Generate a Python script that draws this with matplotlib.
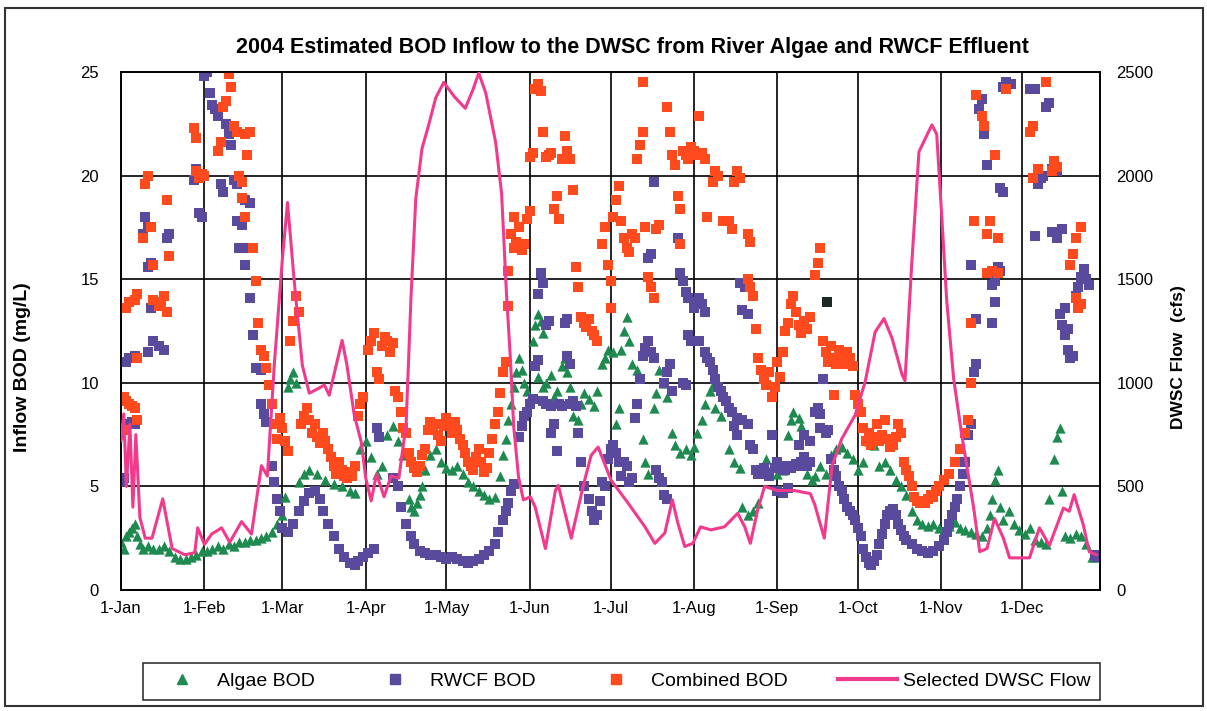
import numpy as np
import matplotlib
matplotlib.use('Agg')
import matplotlib.pyplot as plt
from matplotlib.lines import Line2D
from matplotlib.patches import Rectangle

# day of year (0 = 1-Jan-2004), value
month_days = [0, 31, 60, 91, 121, 152, 182, 213, 244, 274, 305, 335]
month_labels = ['1-Jan', '1-Feb', '1-Mar', '1-Apr', '1-May', '1-Jun',
                '1-Jul', '1-Aug', '1-Sep', '1-Oct', '1-Nov', '1-Dec']

algae_pts = [
    (0, 2.3), (1, 2.0), (2, 2.6), (3, 2.8), (4, 3.0), (5, 3.2), (6, 2.6), (7, 2.2),
    (8, 2.0), (10, 2.1), (12, 2.0), (14, 2.0), (16, 2.1), (18, 1.9), (20, 1.6),
    (22, 1.5), (24, 1.5), (26, 1.6), (28, 1.7), (30, 1.9), (32, 1.9), (34, 2.0),
    (36, 2.1), (38, 2.0), (40, 2.2), (42, 2.1), (44, 2.3), (46, 2.3), (48, 2.4),
    (50, 2.4), (52, 2.5), (54, 2.6), (56, 2.8), (58, 3.2), (60, 3.6), (61, 4.5),
    (62, 9.8), (63, 10.2), (64, 10.5), (65, 10.0), (66, 5.2), (68, 5.6), (70, 5.8),
    (73, 5.6), (76, 5.3), (79, 5.1), (82, 5.0), (85, 4.8), (87, 4.7), (89, 6.8),
    (91, 7.2), (93, 6.4), (95, 5.6), (97, 6.0), (99, 7.5), (101, 7.9), (103, 7.2),
    (105, 6.5), (107, 4.4), (108, 4.0), (109, 3.8), (110, 4.2), (111, 4.6), (112, 5.0),
    (113, 5.8), (115, 6.5), (117, 6.8), (119, 6.2), (121, 5.9), (123, 5.8), (125, 6.0),
    (127, 5.6), (129, 5.2), (131, 5.0), (133, 4.8), (135, 4.6), (137, 4.4), (139, 4.5),
    (141, 5.5), (142, 6.5), (143, 7.3), (144, 8.2), (145, 9.0), (146, 9.8), (147, 10.5),
    (148, 11.2), (149, 10.6), (150, 10.0), (151, 9.6), (152, 9.3), (153, 12.0),
    (154, 12.8), (155, 13.3), (156, 13.0), (157, 12.4), (155, 10.3), (157, 9.8),
    (158, 10.0), (160, 10.4), (161, 9.3), (162, 9.6), (164, 10.8), (165, 11.2),
    (166, 10.5), (167, 9.8), (168, 8.4), (170, 8.2), (171, 9.0), (172, 9.5), (174, 9.2),
    (176, 8.9), (177, 9.6), (179, 10.9), (180, 11.2), (181, 11.6), (183, 11.5),
    (184, 8.0), (185, 8.8), (186, 11.6), (187, 12.5), (188, 13.2), (189, 12.0),
    (190, 10.9), (192, 10.6), (194, 7.3), (195, 6.2), (196, 5.6), (198, 8.8), (199, 9.5),
    (200, 10.6), (202, 10.0), (203, 9.3), (205, 7.6), (206, 7.0), (208, 6.6), (210, 6.8),
    (212, 6.5), (213, 6.9), (214, 7.6), (216, 8.2), (217, 9.0), (219, 9.6), (220, 9.9),
    (221, 8.8), (223, 8.4), (226, 6.8), (228, 6.2), (230, 5.9), (231, 4.0), (233, 3.6),
    (235, 3.8), (237, 4.2), (238, 5.9), (240, 6.3), (242, 6.0), (244, 5.6), (246, 5.8),
    (248, 7.5), (249, 8.2), (250, 8.6), (252, 8.3), (253, 7.9), (255, 5.6), (257, 5.3),
    (258, 5.5), (260, 6.0), (262, 5.6), (264, 6.5), (266, 6.8), (268, 6.9), (270, 6.6),
    (272, 6.3), (274, 5.8), (276, 6.2), (278, 7.2), (280, 7.0), (282, 6.0), (284, 6.2),
    (286, 5.8), (288, 5.3), (290, 5.0), (292, 4.6), (294, 3.8), (296, 3.4), (298, 3.2),
    (300, 3.1), (302, 3.2), (304, 3.0), (306, 2.9), (308, 3.1), (310, 3.3), (312, 3.0),
    (314, 2.9), (316, 2.8), (318, 2.7), (320, 2.6), (322, 3.0), (323, 3.6), (324, 4.4),
    (325, 5.3), (326, 5.8), (327, 4.0), (328, 3.4), (330, 3.8), (332, 3.2), (334, 2.9),
    (336, 2.7), (338, 3.0), (340, 2.4), (342, 2.3), (344, 2.2), (345, 4.4), (347, 6.3),
    (348, 7.4), (349, 7.8), (350, 4.8), (351, 2.6), (353, 2.5), (355, 2.7), (357, 2.6),
    (359, 2.2), (361, 1.6), (362, 1.6),
]

rwcf_pts = [
    (0, 5.2), (1, 5.4), (2, 7.8), (3, 8.0), (4, 8.1), (5, 8.0), (2, 11.0), (3, 11.2),
    (5, 11.3), (10, 11.5), (12, 12.0), (14, 11.8), (16, 11.6), (11, 13.6), (13, 13.9),
    (8, 17.2), (9, 18.0), (10, 17.5), (10, 15.6), (11, 15.8), (17, 17.0), (18, 17.2),
    (27, 19.8), (28, 20.3), (29, 18.2), (30, 18.0), (31, 24.8), (32, 25.0), (33, 24.0),
    (34, 23.4), (35, 23.2), (36, 22.9), (37, 19.6), (38, 19.2), (39, 22.5), (40, 22.0),
    (41, 21.5), (42, 19.8), (43, 19.6), (43, 17.8), (45, 17.6), (46, 18.8), (48, 18.7),
    (44, 16.5), (47, 16.5), (46, 15.7), (48, 14.1), (49, 12.3), (50, 10.7), (52, 10.6),
    (52, 9.0), (53, 8.5), (54, 8.1), (56, 6.0), (57, 5.2), (58, 4.4), (59, 3.8),
    (60, 3.0), (62, 2.8), (64, 3.2), (66, 3.8), (68, 4.3), (70, 4.7), (72, 4.8),
    (74, 4.4), (75, 3.8), (77, 3.2), (79, 2.6), (81, 2.0), (83, 1.6), (85, 1.3),
    (87, 1.2), (88, 1.4), (90, 1.6), (92, 1.8), (94, 2.0), (95, 7.8), (96, 7.4),
    (101, 5.4), (103, 5.0), (104, 4.0), (106, 3.2), (108, 2.6), (109, 2.2), (111, 1.9),
    (113, 1.8), (115, 1.7), (117, 1.7), (119, 1.6), (121, 1.5), (123, 1.6), (125, 1.5),
    (127, 1.4), (129, 1.3), (131, 1.4), (133, 1.5), (135, 1.7), (137, 1.9), (139, 2.2),
    (140, 2.8), (142, 3.4), (143, 3.8), (144, 4.2), (145, 4.8), (146, 5.1), (148, 7.4),
    (149, 7.9), (150, 8.4), (151, 8.6), (152, 9.0), (153, 9.2), (154, 10.8), (155, 11.1),
    (155, 14.3), (156, 15.3), (157, 14.8), (157, 9.1), (158, 9.0), (158, 12.8),
    (159, 13.0), (160, 8.9), (160, 7.6), (161, 8.0), (162, 6.7), (163, 9.0), (164, 8.9),
    (165, 12.9), (166, 13.1), (166, 11.3), (167, 10.9), (167, 9.0), (168, 9.1),
    (169, 8.9), (170, 7.6), (171, 6.2), (172, 5.0), (174, 4.4), (175, 3.8), (176, 3.4),
    (177, 3.6), (178, 4.3), (179, 5.2), (180, 5.0), (181, 6.3), (182, 6.8), (183, 7.0),
    (184, 6.6), (185, 6.2), (186, 5.5), (187, 6.2), (188, 6.0), (189, 5.2), (190, 5.4),
    (191, 8.3), (192, 9.0), (193, 10.2), (194, 11.3), (195, 11.7), (196, 12.0),
    (197, 11.5), (198, 11.2), (196, 16.0), (197, 16.2), (198, 19.7), (199, 5.8),
    (200, 5.4), (201, 5.2), (202, 10.0), (203, 10.5), (204, 10.9), (202, 4.6), (203, 4.4),
    (205, 9.6), (207, 17.0), (208, 15.3), (209, 14.9), (209, 10.0), (210, 9.9),
    (210, 14.4), (211, 14.1), (211, 12.3), (212, 12.0), (213, 13.6), (214, 13.9),
    (215, 14.1), (216, 13.8), (217, 13.4), (215, 12.0), (217, 11.5), (218, 11.2),
    (219, 11.0), (220, 10.6), (221, 10.2), (222, 9.8), (223, 9.6), (224, 9.3), (225, 9.1),
    (226, 8.8), (227, 8.6), (229, 8.3), (231, 8.2), (233, 8.0), (228, 7.9), (229, 7.5),
    (230, 14.8), (232, 14.6), (231, 13.5), (233, 13.3), (234, 7.0), (235, 6.8),
    (236, 5.8), (237, 5.6), (238, 5.6), (239, 5.9), (240, 5.6), (241, 5.5), (242, 7.5),
    (243, 5.9), (244, 6.2), (245, 6.0), (246, 5.8), (247, 5.8), (248, 6.0), (249, 5.9),
    (250, 6.0), (251, 6.1), (252, 6.0), (253, 6.2), (254, 6.4), (255, 6.0), (256, 6.2),
    (244, 4.8), (246, 4.7), (248, 4.9), (252, 7.0), (254, 7.5), (256, 7.2), (258, 8.6),
    (259, 8.8), (260, 8.5), (260, 7.8), (261, 10.2), (262, 7.6), (263, 7.7), (264, 6.3),
    (265, 5.8), (266, 5.5), (267, 5.0), (268, 4.8), (269, 4.4), (270, 4.0), (271, 3.8),
    (272, 3.6), (273, 3.4), (274, 3.0), (275, 2.6), (276, 2.0), (277, 1.6), (278, 1.3),
    (279, 1.2), (280, 1.4), (281, 1.7), (282, 2.2), (283, 2.7), (284, 3.2), (285, 3.6),
    (286, 3.8), (287, 3.9), (288, 3.6), (289, 3.2), (290, 2.9), (291, 2.6), (292, 2.4),
    (294, 2.2), (296, 2.0), (298, 1.9), (300, 1.8), (302, 1.9), (304, 2.1), (306, 2.4),
    (307, 2.8), (308, 3.2), (309, 3.6), (310, 4.0), (311, 4.4), (312, 5.0), (313, 5.6),
    (314, 6.2), (315, 7.5), (316, 8.0), (317, 10.5), (318, 10.9), (318, 13.1),
    (316, 15.7), (319, 23.2), (320, 23.7), (321, 22.0), (322, 20.5), (324, 14.7),
    (325, 14.9), (326, 15.6), (327, 15.4), (325, 13.9), (324, 12.9), (327, 19.4),
    (328, 19.2), (328, 24.3), (329, 24.5), (331, 24.4), (338, 24.2), (340, 24.2),
    (341, 19.6), (342, 19.9), (340, 17.1), (343, 20.0), (344, 23.3), (345, 23.5),
    (346, 20.3), (347, 20.5), (348, 20.2), (346, 17.3), (348, 17.0), (350, 17.4),
    (349, 13.3), (350, 12.8), (351, 12.3), (352, 12.6), (351, 13.6), (352, 11.6),
    (353, 11.2), (354, 11.3), (355, 14.2), (356, 14.6), (357, 15.1), (358, 15.5),
    (359, 15.0), (360, 14.7), (362, 1.7), (363, 1.6),
]

combined_pts = [
    (0, 7.5), (1, 7.7), (1, 9.3), (2, 9.1), (3, 9.0), (4, 8.9), (5, 8.8), (6, 8.2),
    (2, 13.6), (3, 13.9), (5, 14.0), (6, 14.3), (6, 11.2), (8, 17.0), (9, 19.6),
    (10, 20.0), (11, 17.5), (12, 15.7), (12, 14.0), (14, 13.7), (15, 13.9), (16, 14.2),
    (17, 13.4), (17, 18.8), (18, 16.1), (27, 22.3), (28, 21.8), (28, 20.2), (29, 19.9),
    (30, 20.1), (31, 20.0), (36, 21.2), (37, 21.6), (38, 23.3), (39, 23.6), (40, 24.9),
    (41, 24.3), (42, 22.4), (43, 22.1), (44, 20.0), (45, 19.7), (45, 18.9), (46, 18.0),
    (46, 22.0), (47, 21.0), (48, 22.1), (49, 16.5), (50, 14.9), (51, 12.9), (52, 11.6),
    (53, 11.3), (54, 10.7), (55, 9.9), (56, 9.0), (57, 8.0), (58, 7.3), (59, 8.3),
    (60, 7.8), (61, 7.2), (62, 6.7), (63, 12.0), (64, 13.0), (65, 14.2), (66, 13.4),
    (67, 8.0), (68, 8.4), (69, 8.8), (70, 8.2), (71, 7.6), (72, 8.0), (73, 7.4),
    (74, 7.1), (75, 7.6), (76, 7.2), (77, 6.8), (78, 6.4), (79, 6.0), (80, 5.6),
    (81, 6.2), (82, 5.8), (83, 5.5), (84, 5.4), (85, 5.7), (86, 5.5), (87, 6.0),
    (88, 8.4), (89, 9.0), (90, 9.3), (92, 11.6), (93, 12.0), (94, 12.4), (95, 10.5),
    (96, 10.2), (97, 11.8), (98, 12.2), (99, 12.0), (100, 11.5), (101, 11.9), (102, 9.6),
    (103, 9.3), (104, 8.6), (105, 7.8), (106, 7.6), (107, 6.6), (108, 6.2), (109, 5.9),
    (110, 5.7), (111, 6.0), (112, 6.5), (113, 6.8), (114, 7.7), (115, 8.1), (116, 7.8),
    (117, 8.0), (118, 7.5), (119, 7.2), (120, 7.9), (121, 8.3), (122, 8.0), (123, 7.6),
    (124, 8.1), (125, 7.7), (126, 7.3), (127, 7.0), (128, 6.6), (129, 6.2), (130, 6.0),
    (131, 5.8), (132, 6.4), (133, 6.8), (134, 6.2), (135, 5.7), (136, 5.9), (137, 6.6),
    (138, 7.3), (139, 8.0), (140, 8.6), (141, 9.5), (142, 10.5), (143, 11.0), (144, 13.7),
    (144, 15.4), (145, 17.2), (146, 18.0), (146, 16.5), (147, 16.8), (148, 17.5),
    (149, 16.4), (150, 16.7), (151, 17.9), (152, 18.3), (152, 20.9), (153, 21.1),
    (154, 24.2), (155, 24.4), (156, 24.1), (157, 22.1), (158, 20.9), (159, 21.0),
    (160, 21.1), (161, 18.4), (162, 19.0), (163, 17.9), (164, 20.8), (165, 21.9),
    (166, 21.2), (167, 20.8), (168, 19.3), (169, 15.6), (170, 14.6), (171, 13.2),
    (172, 12.9), (173, 12.7), (174, 13.1), (175, 12.5), (176, 12.3), (177, 12.0),
    (179, 16.7), (180, 17.5), (181, 15.7), (182, 14.9), (182, 13.6), (183, 18.0),
    (184, 18.8), (185, 19.5), (186, 17.8), (187, 17.0), (188, 16.5), (189, 16.3),
    (190, 17.2), (191, 17.0), (192, 20.8), (193, 21.5), (194, 22.1), (194, 24.5),
    (195, 17.5), (196, 15.1), (197, 14.6), (198, 14.1), (199, 17.4), (200, 17.6),
    (203, 23.3), (204, 22.1), (205, 21.0), (206, 20.5), (207, 19.0), (208, 18.4),
    (208, 16.7), (209, 21.2), (210, 21.0), (211, 20.8), (212, 21.4), (213, 21.2),
    (214, 21.0), (215, 22.9), (216, 21.1), (217, 20.8), (218, 18.0), (220, 19.7),
    (221, 20.2), (222, 20.0), (224, 17.8), (226, 17.8), (227, 17.4), (228, 19.7),
    (229, 20.2), (230, 19.9), (233, 17.2), (234, 16.8), (233, 15.0), (234, 14.6),
    (235, 14.2), (236, 12.6), (237, 11.2), (238, 10.6), (239, 10.2), (240, 9.9),
    (241, 10.5), (242, 9.3), (243, 9.8), (244, 11.0), (245, 10.3), (246, 11.5),
    (247, 12.5), (248, 12.9), (249, 13.8), (250, 14.2), (251, 13.4), (252, 12.8),
    (253, 12.4), (254, 13.0), (255, 12.6), (256, 13.2), (258, 15.2), (259, 15.8),
    (260, 16.5), (261, 12.0), (262, 11.5), (263, 11.0), (264, 11.8), (265, 11.2),
    (266, 10.9), (267, 11.6), (268, 11.3), (269, 10.9), (270, 11.5), (271, 11.2),
    (272, 10.8), (273, 9.4), (265, 9.4), (274, 9.0), (275, 8.6), (276, 7.8), (277, 7.2),
    (278, 7.6), (279, 7.0), (280, 7.4), (281, 8.0), (282, 7.2), (283, 7.5), (284, 8.2),
    (285, 7.3), (286, 6.9), (287, 7.0), (288, 7.4), (289, 8.0), (290, 7.6), (291, 6.2),
    (292, 5.8), (293, 5.5), (294, 5.0), (295, 4.5), (296, 4.3), (297, 4.2), (298, 4.3),
    (299, 4.2), (300, 4.4), (301, 4.6), (302, 4.5), (303, 4.8), (304, 5.0), (306, 5.3),
    (308, 5.6), (310, 6.2), (312, 6.8), (314, 7.6), (315, 8.2), (316, 10.0), (316, 12.9),
    (317, 17.8), (318, 23.9), (320, 22.9), (321, 22.4), (322, 17.2), (322, 15.3),
    (323, 17.8), (324, 15.4), (325, 21.0), (326, 17.0), (326, 15.3), (329, 24.2),
    (338, 22.1), (339, 22.4), (339, 19.9), (341, 20.3), (344, 24.5), (346, 20.2),
    (347, 20.7), (348, 20.4), (355, 17.0), (357, 17.5), (353, 15.7), (354, 16.2),
    (355, 14.1), (356, 13.6), (357, 13.8),
]

odd_pt = [(262.6, 13.9)]

flow_pts = [
    (0, 720), (1, 850), (2, 500), (3.3, 800), (4.4, 400), (5.5, 750), (7, 350),
    (9, 250), (11.5, 250), (15.5, 440), (19, 200), (23.7, 170), (27.4, 180),
    (28.5, 300), (31, 220), (33.7, 270), (37.4, 300), (40.4, 230), (44.8, 330),
    (48.5, 270), (52.2, 600), (54.4, 550), (57, 1090), (60, 1600), (61.9, 1870),
    (64.4, 1490), (67.4, 1085), (70, 950), (73.7, 975), (75.6, 990), (77.4, 940),
    (80, 1085), (82.2, 1205), (84, 1085), (86.7, 845), (89.3, 715), (91, 540),
    (93, 430), (95, 560), (97.8, 450), (100.4, 550), (103.3, 540), (106, 800),
    (107.8, 1410), (109.6, 1890), (111.9, 2130), (114.4, 2245), (117, 2375),
    (120, 2450), (124, 2380), (128, 2325), (131, 2420), (133, 2495), (135.6, 2400),
    (139.3, 2160), (141.5, 1915), (143.3, 1435), (144.8, 1110), (146, 790),
    (147.8, 545), (149.6, 435), (152.2, 450), (154, 400), (157.8, 200), (161.5, 480),
    (162.6, 505), (167.4, 250), (171.9, 505), (174.8, 650), (177.4, 690), (180.4, 590),
    (182.2, 530), (188.5, 420), (194.8, 305), (198.5, 225), (202.2, 275), (205, 435),
    (207, 325), (209.6, 210), (212.6, 225), (215.5, 305), (219.3, 290), (224.4, 305),
    (229.3, 370), (231.9, 305), (234, 225), (236.7, 385), (239.3, 500), (244, 480),
    (250.4, 480), (256.3, 465), (258, 410), (261.5, 250), (264.4, 600), (268, 730),
    (273, 845), (276.7, 1005), (280.4, 1245), (283.7, 1310), (286.7, 1215),
    (290.4, 1040), (291.5, 1010), (294, 1570), (296.7, 2115), (301.5, 2245),
    (303.3, 2200), (305.2, 1800), (307, 1400), (309.6, 1020), (312.6, 750), (317, 400),
    (319.3, 185), (322, 200), (324.8, 345), (328.1, 250), (330.4, 155), (337.8, 155),
    (341.5, 300), (345.2, 215), (350.4, 395), (352.6, 380), (354.4, 460), (357.8, 315),
    (360, 185), (362.6, 170),
]

left_ticks = [0, 5, 10, 15, 20, 25]
right_ticks = [0, 500, 1000, 1500, 2000, 2500]

GREEN = '#1f8a50'
PURPLE = '#5a4a9e'
ORANGE = '#ff4a1e'
PINK = '#f23a8c'
plt.rcParams['font.family'] = ['Liberation Sans', 'DejaVu Sans']

fig = plt.figure(figsize=(12.07, 7.11), dpi=100)
ax = fig.add_axes([0.1003, 0.1702, 0.8110, 0.7285])
ax2 = ax.twinx()

a = np.array(algae_pts)
r = np.array(rwcf_pts)
c = np.array(combined_pts)
o = np.array(odd_pt)
f = np.array(flow_pts)

ax.scatter(a[:, 0], a[:, 1], marker='^', s=55, color=GREEN, linewidths=0, zorder=3)
ax.scatter(r[:, 0], r[:, 1], marker='s', s=56, color=PURPLE, linewidths=0, zorder=4)
ax.scatter(c[:, 0], c[:, 1], marker='s', s=52, color=ORANGE, linewidths=0, zorder=5)
ax.scatter(o[:, 0], o[:, 1], marker='s', s=52, color='#1d2a24', linewidths=0, zorder=5)
ax2.plot(f[:, 0], f[:, 1], color=PINK, lw=2.2, zorder=6)

ax.set_xlim(0, 364)
ax.set_ylim(0, 25)
ax2.set_ylim(0, 2500)
ax.set_xticks(month_days)
ax.set_xticklabels(month_labels, fontsize=12)
ax.set_yticks(left_ticks)
ax.set_yticklabels([str(v) for v in left_ticks], fontsize=12)
ax2.set_yticks(right_ticks)
ax2.set_yticklabels([str(v) for v in right_ticks], fontsize=12)
ax.tick_params(axis='x', length=0, pad=8)
ax.tick_params(axis='y', length=0, pad=16)
ax2.tick_params(length=0, pad=12)
ax.grid(True, color='black', lw=1.2)
ax.set_axisbelow(True)
for sp in list(ax.spines.values()) + list(ax2.spines.values()):
    sp.set_linewidth(1.2)
    sp.set_color('black')

ax.set_ylabel('Inflow BOD (mg/L)', fontsize=14, fontweight='bold')
ax.yaxis.set_label_coords(-0.092, 0.43)
ax2.set_ylabel('DWSC Flow  (cfs)', fontsize=12.5, fontweight='bold', rotation=90)
ax2.yaxis.set_label_coords(1.073, 0.45)
fig.text(0.524, 0.933, '2004 Estimated BOD Inflow to the DWSC from River Algae and RWCF Effluent',
         ha='center', va='center', fontsize=15.5, fontweight='bold')

handles = [
    Line2D([], [], marker='^', color=GREEN, ls='none', markersize=7),
    Line2D([], [], marker='s', color=PURPLE, ls='none', markersize=7),
    Line2D([], [], marker='s', color=ORANGE, ls='none', markersize=7),
    Line2D([], [], color=PINK, lw=3),
]
labels = ['Algae BOD', 'RWCF BOD', 'Combined BOD', 'Selected DWSC Flow']
leg = fig.legend(handles, labels, loc='lower left', ncol=4, mode='expand',
                 bbox_to_anchor=(143 / 1207, 1 - 700 / 711, (1100 - 143) / 1207, 45 / 711),
                 frameon=True, fancybox=False, edgecolor='black', fontsize=14,
                 handlelength=3.0, handletextpad=0.3, borderaxespad=0, borderpad=0.5)
leg.get_frame().set_linewidth(1.2)

fig.patches.append(Rectangle((5 / 1207, 5 / 711), 1198 / 1207, 698 / 711,
                             transform=fig.transFigure, fill=False,
                             edgecolor='#333333', lw=1.5))

fig.savefig('out.png', dpi=100)
